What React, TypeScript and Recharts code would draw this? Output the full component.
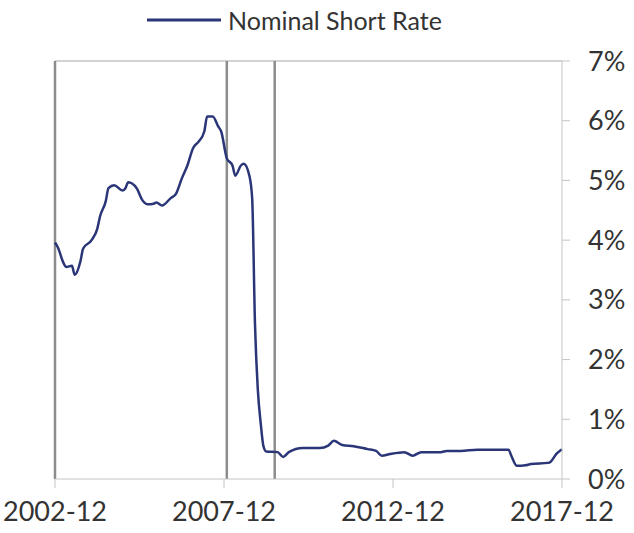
import React from "react";
import { Legend, Line, LineChart, ReferenceLine, XAxis, YAxis } from "recharts";

// monthly readings, "YYYY-MM"
const months = [
  "2002-12", "2003-01", "2003-03", "2003-04", "2003-06", "2003-07", "2003-09", "2003-10",
  "2004-01", "2004-03", "2004-04", "2004-06", "2004-07", "2004-09", "2004-12",
  "2005-01", "2005-02", "2005-05", "2005-07", "2005-09", "2005-11", "2005-12",
  "2006-02", "2006-05", "2006-07", "2006-09", "2006-11",
  "2007-01", "2007-03", "2007-05", "2007-06", "2007-08", "2007-10", "2007-11",
  "2008-01", "2008-03", "2008-04", "2008-06", "2008-07", "2008-09", "2008-10", "2008-11", "2008-12",
  "2009-01", "2009-02", "2009-03", "2009-07", "2009-09", "2009-11",
  "2010-04", "2010-10", "2011-01", "2011-03", "2011-06", "2011-10",
  "2012-03", "2012-06", "2012-08", "2012-11", "2013-04", "2013-07", "2013-10",
  "2014-05", "2014-07", "2014-12", "2015-06", "2016-05", "2016-06", "2016-08", "2016-11",
  "2017-01", "2017-07", "2017-08", "2017-10", "2017-12",
];

const shortRate = [
  3.96, 3.88, 3.62, 3.55, 3.57, 3.42, 3.64, 3.86,
  4.0, 4.19, 4.4, 4.65, 4.87, 4.92, 4.83,
  4.87, 4.97, 4.87, 4.67, 4.6, 4.61, 4.63,
  4.58, 4.7, 4.78, 5.03, 5.25,
  5.54, 5.65, 5.82, 6.07, 6.07, 5.9, 5.82,
  5.37, 5.25, 5.08, 5.25, 5.28, 5.08, 4.7, 2.6, 1.5,
  0.95, 0.55, 0.46, 0.45, 0.37, 0.45,
  0.52, 0.52, 0.56, 0.64, 0.57, 0.55,
  0.5, 0.47, 0.39, 0.42, 0.45, 0.39, 0.45,
  0.45, 0.47, 0.47, 0.49, 0.49, 0.39, 0.22, 0.23,
  0.25, 0.27, 0.29, 0.42, 0.5,
];

const xTickLabels = ["2002-12", "2007-12", "2012-12", "2017-12"];
const yTicks = [0, 1, 2, 3, 4, 5, 6, 7];
const recessionMarks = ["2008-01", "2009-06"];

const FONT = "Lato, 'Open Sans', sans-serif";

// months since 2002-12
const toIndex = (ym: string) => {
  const [y, m] = ym.split("-").map(Number);
  return (y - 2002) * 12 + (m - 12);
};

const data = months.map((d, i) => ({ t: toIndex(d), rate: shortRate[i] }));
const xTicks = xTickLabels.map(toIndex);

const LegendContent = () => (
  <div style={{ height: 56, width: 634, position: "relative", fontFamily: FONT }}>
    <div style={{ position: "absolute", left: 147, top: 0, display: "flex", alignItems: "center" }}>
      <svg width={74} height={6}>
        <line x1={0} y1={3} x2={74} y2={3} stroke="#2a3678" strokeWidth={3} />
      </svg>
      <span style={{ marginLeft: 7, fontSize: 25, color: "#333" }}>Nominal Short Rate</span>
    </div>
  </div>
);

export default function App() {
  return (
    <div style={{ position: "absolute", left: 0, top: 0, background: "#fff" }}>
      <LineChart
        width={634}
        height={533}
        data={data}
        margin={{ top: 5, right: 0, bottom: 0, left: 55 }}
      >
        <Legend verticalAlign="top" content={<LegendContent />} wrapperStyle={{ left: 0, width: 634 }} />
        <XAxis
          dataKey="t"
          type="number"
          domain={[0, 180]}
          ticks={xTicks}
          tickFormatter={(v: number) => xTickLabels[xTicks.indexOf(v)] ?? ""}
          height={54}
          tickSize={9}
          tickMargin={14}
          stroke="#c4c4c4"
          tick={{ fill: "#333", fontSize: 27, fontFamily: FONT }}
          interval={0}
        />
        <YAxis
          orientation="right"
          domain={[0, 7]}
          ticks={yTicks}
          tickFormatter={(v: number) => `${v}%`}
          width={72}
          tickSize={8}
          tickMargin={18}
          stroke="#c4c4c4"
          tick={{ fill: "#333", fontSize: 27, fontFamily: FONT }}
          interval={0}
        />
        <ReferenceLine y={7} stroke="#c4c4c4" strokeWidth={1.5} />
        <ReferenceLine x={0} stroke="#8c8c8c" strokeWidth={2.5} />
        {recessionMarks.map((m) => (
          <ReferenceLine key={m} x={toIndex(m)} stroke="#8c8c8c" strokeWidth={2.5} />
        ))}
        <Line
          type="monotone"
          dataKey="rate"
          stroke="#2a3678"
          strokeWidth={2.5}
          dot={false}
          isAnimationActive={false}
        />
      </LineChart>
    </div>
  );
}
